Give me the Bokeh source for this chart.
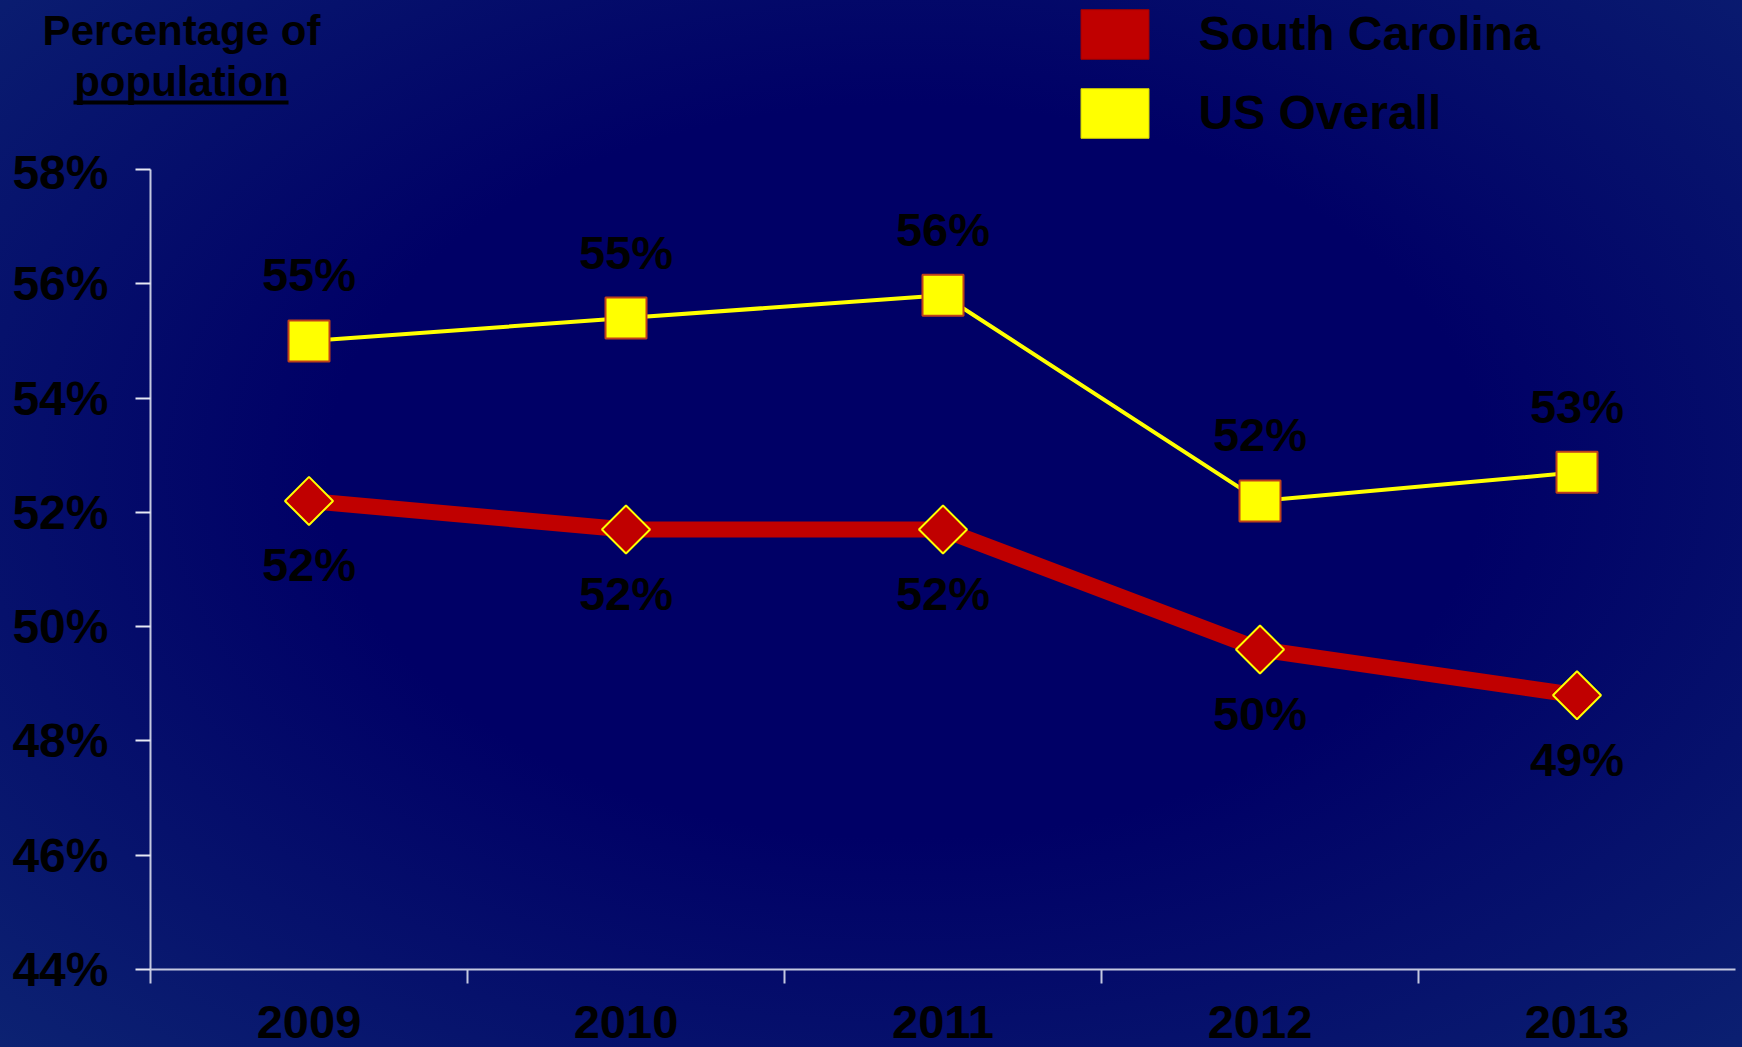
import math
from bokeh.plotting import figure
from bokeh.models import (ColumnDataSource, Range1d, FixedTicker, PrintfTickFormatter,
                          Legend, LegendItem, Label)
from bokeh.core.properties import value
from bokeh.embed import file_html
from bokeh.resources import INLINE

# ---- data ----
years = ["2009", "2010", "2011", "2012", "2013"]
sc_values = [52.2, 51.7, 51.7, 49.6, 48.8]   # South Carolina
us_values = [55.0, 55.4, 55.8, 52.2, 52.7]   # US Overall
y_ticks = [44, 46, 48, 50, 52, 54, 56, 58]
series_names = ["South Carolina", "US Overall"]
axis_title = ["Percentage of", "population"]

FONT = value("Liberation Sans")
RED = "#c00000"
YELLOW = "#ffff00"
AXIS = "#c4c8e0"

W = 1742
TOP_H = 145
MAIN_H = 1047 - TOP_H
LEFT, RIGHT = 150, 7

# ---------------- header figure: axis title + legend ----------------
hdr = figure(width=W, height=TOP_H, output_backend="svg", toolbar_location=None,
             x_range=Range1d(0, W), y_range=Range1d(TOP_H, 0),
             x_axis_location=None, y_axis_location=None,
             min_border_left=0, min_border_right=0,
             min_border_top=0, min_border_bottom=0)
hdr.background_fill_alpha = 0
hdr.border_fill_alpha = 0
hdr.outline_line_color = None
hdr.xgrid.visible = False
hdr.ygrid.visible = False

hdr.add_layout(Label(x=181, y=29.5, text=axis_title[0], text_align="center",
                     text_baseline="middle", text_font="Liberation Sans",
                     text_font_style="bold", text_font_size="42px", text_color="black"))
hdr.add_layout(Label(x=181, y=80.5, text=axis_title[1], text_align="center",
                     text_baseline="middle", text_font="Liberation Sans",
                     text_font_style="bold", text_font_size="42px", text_color="black"))
# underline of "population"
hdr.segment(x0=[73], y0=[102], x1=[288], y1=[102], line_color="black", line_width=4)

# legend swatches (no visible geometry, only used by the legend)
nan = [math.nan]
r_sc = hdr.quad(left=nan, right=nan, top=nan, bottom=nan, fill_color=RED, line_color="#a00000")
r_us = hdr.quad(left=nan, right=nan, top=nan, bottom=nan, fill_color=YELLOW, line_color="#d0d000")
legend = Legend(items=[LegendItem(label=series_names[0], renderers=[r_sc]),
                       LegendItem(label=series_names[1], renderers=[r_us])],
                location=(1071.5, TOP_H - 143.75), orientation="vertical",
                glyph_width=85, glyph_height=62, spacing=17, padding=0, margin=0,
                label_standoff=42, label_text_font="Liberation Sans",
                label_text_font_style="bold", label_text_font_size="48px",
                label_text_color="black", border_line_color=None,
                background_fill_alpha=0, inactive_fill_alpha=0)
hdr.add_layout(legend)

# ---------------- main chart ----------------
xs = list(range(len(years)))
src = ColumnDataSource(dict(
    x=xs, sc=sc_values, us=us_values,
    sc_lab=[f"{round(v)}%" for v in sc_values],
    us_lab=[f"{round(v)}%" for v in us_values],
))

p = figure(width=W, height=MAIN_H, output_backend="svg", toolbar_location=None,
           x_range=Range1d(-0.5, len(years) - 0.5), y_range=Range1d(y_ticks[0], y_ticks[-1]),
           min_border_left=LEFT, min_border_right=RIGHT, min_border_top=169 - TOP_H,
           min_border_bottom=MAIN_H - (969 - TOP_H))
p.background_fill_alpha = 0
p.border_fill_alpha = 0
p.outline_line_color = None
p.xgrid.visible = False
p.ygrid.visible = False

# y axis
ya = p.yaxis[0]
ya.ticker = FixedTicker(ticks=y_ticks, minor_ticks=[])
ya.formatter = PrintfTickFormatter(format="%d%%")
ya.major_label_text_font = "Liberation Sans"
ya.major_label_text_font_style = "bold"
ya.major_label_text_font_size = "48px"
ya.major_label_text_color = "black"
ya.major_label_standoff = 27
ya.major_tick_out = 15
ya.major_tick_in = 0
ya.major_tick_line_color = "#e6e8f4"
ya.major_tick_line_width = 2
ya.axis_line_color = AXIS
ya.axis_line_width = 2

# x axis: labels at category centres, tick marks at category boundaries
xa = p.xaxis[0]
xa.ticker = FixedTicker(ticks=xs, minor_ticks=[i - 0.5 for i in xs])
xa.major_label_overrides = {i: y for i, y in enumerate(years)}
xa.major_label_text_font = "Liberation Sans"
xa.major_label_text_font_style = "bold"
xa.major_label_text_font_size = "47px"
xa.major_label_text_color = "black"
xa.major_label_standoff = 22
xa.major_tick_out = 0
xa.major_tick_in = 0
xa.major_tick_line_color = None
xa.minor_tick_out = 14
xa.minor_tick_in = 0
xa.minor_tick_line_color = AXIS
xa.minor_tick_line_width = 2
xa.axis_line_color = AXIS
xa.axis_line_width = 2

# series
p.line("x", "sc", source=src, line_color=RED, line_width=16)
p.scatter("x", "sc", source=src, marker="square", size=34, angle=math.pi / 4,
          fill_color=RED, line_color=YELLOW, line_width=2)
p.line("x", "us", source=src, line_color=YELLOW, line_width=4)
p.scatter("x", "us", source=src, marker="square", size=41,
          fill_color=YELLOW, line_color="#c0401a", line_width=2)

# data labels
p.text("x", "us", text="us_lab", source=src, text_align="center", text_baseline="middle",
       y_offset=-66, text_font=FONT, text_font_style="bold", text_font_size="47px",
       text_color="black")
p.text("x", "sc", text="sc_lab", source=src, text_align="center", text_baseline="middle",
       y_offset=64, text_font=FONT, text_font_style="bold", text_font_size="47px",
       text_color="black")

# two independent roots stacked (header, then chart) so frames are not aligned
html = file_html([hdr, p], INLINE)
style = ("<style>html{min-height:100%;background:radial-gradient(ellipse at 52% 45%, "
         "#000066 0%, #000066 45%, #0c2272 100%);}body{background:transparent;}</style>")
html = html.replace("</head>", style + "</head>", 1)
open("out.html", "w").write(html)
